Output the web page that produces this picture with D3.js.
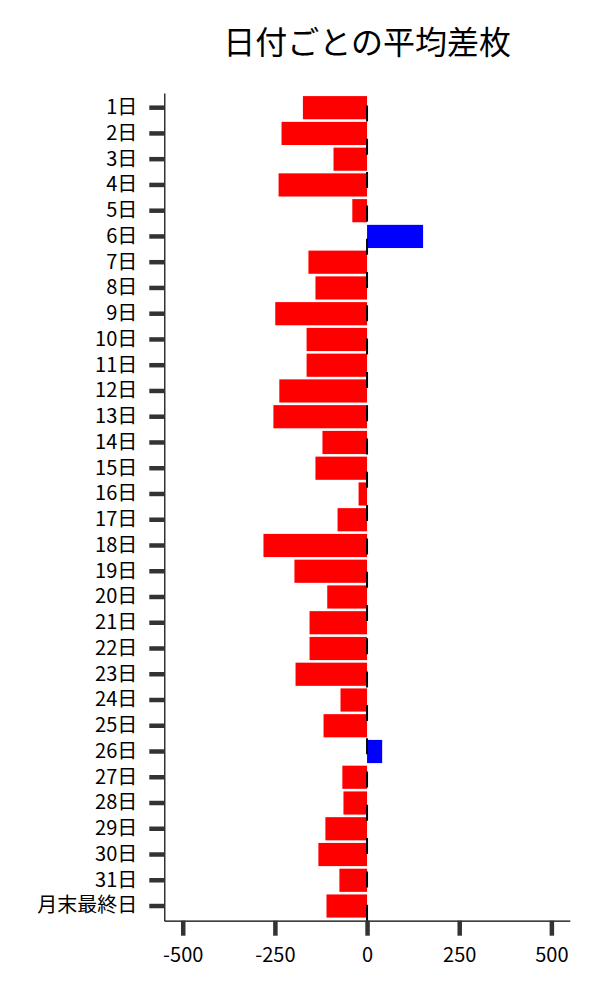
<!DOCTYPE html>
<html>
<head>
<meta charset="utf-8">
<script src="https://cdn.jsdelivr.net/npm/d3@7"></script>
<style>
  body { margin: 0; background: #fff; }
  svg { display: block; font-family: "Noto Sans CJK JP", "Noto Sans", sans-serif; }
</style>
</head>
<body>
<div id="chart"></div>
<script>
"use strict";

// 日付ごとの平均差枚
const days = [
  "1日", "2日", "3日", "4日", "5日", "6日", "7日", "8日", "9日", "10日",
  "11日", "12日", "13日", "14日", "15日", "16日", "17日", "18日", "19日", "20日",
  "21日", "22日", "23日", "24日", "25日", "26日", "27日", "28日", "29日", "30日",
  "31日", "月末最終日"
];
const avgDiff = [
  -174, -232, -91, -240, -40, 152, -159, -140, -249, -164,
  -164, -238, -254, -121, -140, -23, -80, -281, -197, -108,
  -156, -156, -194, -72, -118, 41, -67, -64, -113, -132,
  -75, -110
];
const xTicks = [-500, -250, 0, 250, 500];
const xDomain = [-550, 550];

const width = 600;
const height = 1000;
const plotLeft = 164.3, plotRight = 569.8, plotTop = 93, plotBottom = 920.7;

const svg = d3.select("#chart")
  .append("svg")
  .attr("width", width)
  .attr("height", height);

svg.append("rect")
  .attr("width", width)
  .attr("height", height)
  .attr("fill", "#fff");

const x = d3.scaleLinear().domain(xDomain).range([plotLeft, plotRight]);
const y = d3.scaleBand()
  .domain(days)
  .range([plotTop, plotBottom])
  .paddingInner(0.1)
  .paddingOuter(0.12);

const data = days.map((d, i) => ({ day: d, value: avgDiff[i] }));

// bars
svg.append("g")
  .selectAll("rect")
  .data(data)
  .enter()
  .append("rect")
  .attr("x", (d) => x(Math.min(0, d.value)))
  .attr("y", (d) => y(d.day))
  .attr("width", (d) => Math.abs(x(d.value) - x(0)))
  .attr("height", y.bandwidth())
  .attr("fill", (d) => (d.value < 0 ? "#ff0000" : "#0000ff"));

// dashed zero line (drawn bottom -> top so dashes start at the axis)
svg.append("line")
  .attr("x1", x(0))
  .attr("x2", x(0))
  .attr("y1", plotBottom)
  .attr("y2", plotTop)
  .attr("stroke", "#000")
  .attr("stroke-width", 2)
  .attr("stroke-dasharray", "16,17.3");

// axes
const yAxis = svg.append("g")
  .attr("transform", `translate(${plotLeft},0)`)
  .call(d3.axisLeft(y).tickSize(15).tickSizeOuter(0).tickPadding(12));

const xAxis = svg.append("g")
  .attr("transform", `translate(0,${plotBottom})`)
  .call(d3.axisBottom(x).tickValues(xTicks).tickFormat(d3.format("d"))
    .tickSize(15).tickSizeOuter(0).tickPadding(12));

[yAxis, xAxis].forEach((g) => {
  g.select(".domain").style("stroke", "#000").style("stroke-width", "1.2px");
  g.selectAll(".tick line").style("stroke", "#333").style("stroke-width", "4.5px");
  g.selectAll(".tick text")
    .attr("fill", "#000")
    .style("font-size", "20px")
    .style("font-family", '"Noto Sans CJK JP", "Noto Sans", sans-serif');
});

xAxis.selectAll(".tick text").text((d) => (d < 0 ? "-" + Math.abs(d) : d));

// title
svg.append("text")
  .attr("x", (plotLeft + plotRight) / 2)
  .attr("y", 54)
  .attr("text-anchor", "middle")
  .attr("fill", "#000")
  .style("font-size", "32px")
  .text("日付ごとの平均差枚");
</script>
</body>
</html>
